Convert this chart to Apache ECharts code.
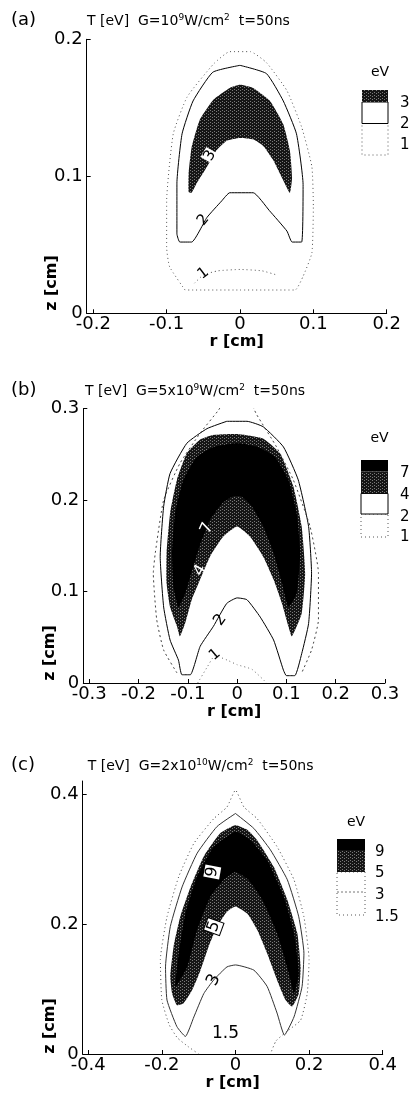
<!DOCTYPE html>
<html><head><meta charset="utf-8">
<script src="https://cdn.jsdelivr.net/npm/echarts@6/dist/echarts.min.js"></script>
<style>html,body{margin:0;padding:0;background:#fff}#c{width:411px;height:1096px}</style>
</head><body><div id="c"></div>
<script>
// ---------------- DATA (r [cm], z [cm]) ----------------
// Panel (a)  G=10^9 W/cm^2
const xTicksA = [-0.2, -0.1, 0, 0.1, 0.2];
const yTicksA = [0, 0.1, 0.2];
const levelsA = ['3', '2', '1'];
const A_fill3 = [[-0.070,0.0885],[-0.070,0.102],[-0.066,0.121],[-0.055,0.141],[-0.036,0.156],[-0.014,0.1645],[0,0.1668],[0.018,0.1645],[0.041,0.155],[0.059,0.138],[0.068,0.119],[0.071,0.099],[0.068,0.088],
  [0.059,0.097],[0.045,0.112],[0.032,0.122],[0.018,0.127],[0,0.128],[-0.018,0.126],[-0.032,0.119],[-0.045,0.107],[-0.059,0.095],[-0.066,0.088]];
const A_line2 = [[0,0.181],[-0.037,0.176],[-0.064,0.155],[-0.079,0.131],[-0.086,0.095],[-0.086,0.058],[-0.082,0.052],[-0.066,0.052],[-0.045,0.070],[-0.025,0.082],[-0.014,0.088],[0.018,0.088],[0.040,0.075],[0.064,0.060],[0.071,0.052],[0.084,0.052],[0.086,0.094],[0.077,0.131],[0.059,0.155],[0.036,0.175],[0,0.181]];
const A_line1 = [[-0.075,0.017],[-0.096,0.034],[-0.100,0.048],[-0.100,0.082],[-0.091,0.131],[-0.072,0.158],[-0.036,0.182],[-0.014,0.191],[0.014,0.191],[0.036,0.183],[0.064,0.1625],[0.084,0.136],[0.098,0.107],[0.100,0.078],[0.098,0.044],[0.086,0.027],[0.075,0.017],[0,0.017],[-0.075,0.017]];
const A_line1b = [[-0.062,0.022],[-0.050,0.028],[-0.030,0.031],[0,0.032],[0.030,0.031],[0.050,0.028]];
const A_labels = [['3',-0.041,0.115],['2',-0.050,0.068],['1',-0.050,0.029]];

// Panel (b)  G=5x10^9 W/cm^2
const xTicksB = [-0.3, -0.2, -0.1, 0, 0.1, 0.2, 0.3];
const yTicksB = [0, 0.1, 0.2, 0.3];
const levelsB = ['7', '4', '2', '1'];
const B_fill4 = [[-0.116,0.051],[-0.122,0.062],[-0.136,0.083],[-0.143,0.109],[-0.143,0.142],[-0.136,0.185],[-0.122,0.222],[-0.102,0.251],[-0.075,0.266],[-0.049,0.271],[0,0.272],[0.053,0.267],[0.087,0.251],[0.114,0.215],[0.131,0.171],[0.138,0.120],[0.131,0.076],[0.111,0.051],
  [0.104,0.062],[0.091,0.087],[0.074,0.113],[0.053,0.138],[0.026,0.160],[0,0.171],[-0.028,0.160],[-0.055,0.138],[-0.075,0.113],[-0.092,0.091],[-0.105,0.066]];
const B_fill7 = [[-0.119,0.083],[-0.129,0.105],[-0.132,0.142],[-0.126,0.185],[-0.109,0.222],[-0.082,0.247],[-0.048,0.258],[0,0.262],[0.043,0.258],[0.077,0.247],[0.104,0.222],[0.121,0.185],[0.128,0.142],[0.121,0.098],[0.104,0.083],
  [0.091,0.109],[0.074,0.142],[0.053,0.171],[0.030,0.193],[0.008,0.204],[-0.008,0.204],[-0.031,0.196],[-0.055,0.178],[-0.072,0.156],[-0.089,0.127],[-0.105,0.098]];
const B_line2 = [[-0.021,0.286],[-0.061,0.278],[-0.102,0.262],[-0.136,0.229],[-0.149,0.193],[-0.156,0.138],[-0.149,0.083],[-0.136,0.047],[-0.119,0.025],[-0.112,0.009],[-0.095,0.009],[-0.075,0.040],[-0.048,0.062],[-0.021,0.087],[0,0.093],[0.020,0.091],[0.047,0.072],[0.074,0.047],[0.094,0.014],[0.100,0.008],[0.117,0.008],[0.131,0.032],[0.145,0.065],[0.151,0.120],[0.145,0.171],[0.124,0.222],[0.094,0.258],[0.053,0.280],[0.020,0.286],[-0.021,0.286]];
const B_line1 = [[-0.122,0.011],[-0.149,0.036],[-0.163,0.069],[-0.170,0.120],[-0.166,0.142],[-0.149,0.200],[-0.116,0.240],[-0.075,0.273],[-0.038,0.298],[-0.020,0.312],[0.020,0.312],[0.040,0.293],[0.080,0.258],[0.114,0.222],[0.148,0.171],[0.165,0.120],[0.165,0.069],[0.151,0.036],[0.131,0.011]];
const B_line1b = [[-0.080,0.0],[-0.060,0.018],[-0.045,0.030],[-0.020,0.025],[0,0.020],[0.030,0.015],[0.060,0.0]];
const B_labels = [['7',-0.061,0.169],['4',-0.075,0.123],['2',-0.034,0.069],['1',-0.045,0.031]];

// Panel (c)  G=2x10^10 W/cm^2
const xTicksC = [-0.4, -0.2, 0, 0.2, 0.4];
const yTicksC = [0, 0.2, 0.4];
const levelsC = ['9', '5', '3', '1.5'];
const C_fill5 = [[-0.159,0.075],[-0.172,0.093],[-0.177,0.119],[-0.168,0.165],[-0.150,0.211],[-0.122,0.257],[-0.086,0.304],[-0.041,0.340],[0,0.352],[0.032,0.345],[0.059,0.329],[0.104,0.288],[0.141,0.237],[0.168,0.186],[0.177,0.134],[0.172,0.093],[0.154,0.073],
  [0.136,0.083],[0.113,0.114],[0.086,0.155],[0.059,0.191],[0.032,0.216],[0,0.227],[-0.023,0.219],[-0.050,0.196],[-0.073,0.165],[-0.095,0.129],[-0.118,0.098],[-0.141,0.078]];
const C_fill9 = [[-0.163,0.104],[-0.154,0.155],[-0.136,0.216],[-0.104,0.273],[-0.059,0.319],[0,0.342],[0.041,0.329],[0.086,0.298],[0.131,0.242],[0.159,0.186],[0.172,0.124],[0.159,0.093],
  [0.145,0.124],[0.113,0.186],[0.073,0.237],[0.035,0.268],[0,0.280],[-0.032,0.268],[-0.068,0.242],[-0.104,0.191],[-0.131,0.134]];
const C_line3 = [[0,0.370],[-0.050,0.350],[-0.104,0.309],[-0.145,0.257],[-0.177,0.196],[-0.190,0.134],[-0.186,0.083],[-0.159,0.042],[-0.136,0.027],[-0.113,0.057],[-0.086,0.093],[-0.059,0.114],[-0.023,0.134],[0,0.137],[0.050,0.129],[0.086,0.104],[0.113,0.063],[0.133,0.029],[0.159,0.057],[0.181,0.104],[0.186,0.155],[0.172,0.211],[0.141,0.268],[0.095,0.314],[0.050,0.347],[0,0.370]];
const C_line15 = [[-0.100,0.0],[-0.130,0.012],[-0.158,0.025],[-0.180,0.045],[-0.200,0.083],[-0.204,0.145],[-0.186,0.211],[-0.154,0.273],[-0.113,0.324],[-0.059,0.362],[-0.023,0.380],[0,0.406],[0.023,0.380],[0.059,0.362],[0.113,0.319],[0.159,0.268],[0.186,0.211],[0.200,0.145],[0.195,0.093],[0.177,0.052],[0.140,0.035],[0.110,0.020],[0.095,0.0]];
const C_labels = [['9',-0.063,0.280],['5',-0.059,0.196],['3',-0.059,0.114],['1.5',-0.027,0.032]];

// ---------------- STYLE / LAYOUT ----------------
const FONT = 'DejaVu Sans';
function makeTexture(bg, dot) {
  const c = document.createElement('canvas'); c.width = 4; c.height = 3;
  const g = c.getContext('2d'); g.fillStyle = bg; g.fillRect(0, 0, 4, 3);
  g.fillStyle = dot; g.fillRect(0, 0, 1, 1); g.fillRect(2, 2, 1, 1);
  return {image: c, repeat: 'repeat'};
}
const TEX = makeTexture('#151515', '#7a7a7a');
const BLACK = '#000';

const grids = [
  {left: 86.7, top: 39.3, width: 300, height: 274},
  {left: 83.3, top: 408.5, width: 301.7, height: 274.5},
  {left: 82.7, top: 781, width: 300, height: 273}
];
const xRanges = [[-0.209, 0.2], [-0.312, 0.3], [-0.415, 0.4]];
const yRanges = [[0, 0.2], [0, 0.3], [0, 0.42]];
const xTicks = [xTicksA, xTicksB, xTicksC];
const yTicks = [yTicksA, yTicksB, yTicksC];
const nameGaps = [20, 12, 18];

const xAxes = [], yAxes = [];
for (let i = 0; i < 3; i++) {
  xAxes.push({gridIndex: i, type: 'value', min: xRanges[i][0], max: xRanges[i][1],
    name: 'r [cm]', nameLocation: 'middle', nameGap: nameGaps[i],
    nameTextStyle: {fontFamily: FONT, fontWeight: 'bold', fontSize: 16, color: '#000', verticalAlign: 'top'},
    axisLine: {onZero: false, lineStyle: {color: '#000', width: 1}},
    axisTick: {inside: true, length: 4, customValues: xTicks[i], lineStyle: {color: '#000'}},
    axisLabel: {customValues: xTicks[i], fontFamily: FONT, fontSize: 18, color: '#000', margin: 2},
    splitLine: {show: false}});
  yAxes.push({gridIndex: i, type: 'value', min: yRanges[i][0], max: yRanges[i][1],
    axisLine: {onZero: false, lineStyle: {color: '#000', width: 1}},
    axisTick: {inside: true, length: 4, customValues: yTicks[i], lineStyle: {color: '#000'}},
    axisLabel: {customValues: yTicks[i], fontFamily: FONT, fontSize: 18, color: '#000', margin: 4},
    splitLine: {show: false}});
}

function fillSeries(idx, poly, fill) {
  return {type: 'custom', xAxisIndex: idx, yAxisIndex: idx, silent: true, clip: true,
    data: [[poly[0][0], poly[0][1]]],
    renderItem: function (params, api) {
      return {type: 'polygon', shape: {points: poly.map(p => api.coord(p)), smooth: 0.15},
        style: {fill: fill, stroke: null}};
    }};
}
function lineSeries(idx, pts, color, type, width) {
  return {type: 'line', xAxisIndex: idx, yAxisIndex: idx, data: pts, showSymbol: false, symbol: 'none',
    smooth: 0.15, silent: true, clip: true, animation: false,
    lineStyle: {color: color, width: width, type: type}};
}
function labelSeries(idx, labels, styles) {
  return {type: 'custom', xAxisIndex: idx, yAxisIndex: idx, silent: true, clip: false,
    data: labels.map(l => [l[1], l[2]]),
    renderItem: function (params, api) {
      const l = labels[params.dataIndex], s = styles[params.dataIndex];
      const p = api.coord([l[1], l[2]]);
      return {type: 'text', x: p[0], y: p[1], rotation: s.rot * Math.PI / 180, z2: 10,
        style: Object.assign({text: l[0], font: (s.size || 15) + 'px ' + FONT, fill: s.color || '#000',
          align: 'center', verticalAlign: 'middle'}, s.extra || {})};
    }};
}
const whiteBg = {backgroundColor: '#fff', padding: [0, 1]};
const boxBg = {backgroundColor: '#fff', borderColor: '#000', borderWidth: 1, padding: [0, 1]};
const labelStylesA = [{rot: 60, extra: whiteBg}, {rot: 50, extra: whiteBg}, {rot: 38, extra: whiteBg}];
const labelStylesB = [{rot: 65, color: '#fff', size: 16}, {rot: 60, color: '#fff', size: 16}, {rot: 55, extra: whiteBg, size: 16}, {rot: 40, extra: whiteBg}];
const labelStylesC = [{rot: 80, extra: boxBg, size: 16}, {rot: 70, extra: boxBg, size: 16}, {rot: 65, extra: whiteBg, size: 17}, {rot: 0, size: 17}];

const series = [
  fillSeries(0, A_fill3, TEX),
  lineSeries(0, A_line2, '#000', 'solid', 1),
  lineSeries(0, A_line1, '#555', [1, 3], 1),
  lineSeries(0, A_line1b, '#555', [1, 3], 1),
  labelSeries(0, A_labels, labelStylesA),

  fillSeries(1, B_fill4, TEX),
  fillSeries(1, B_fill7, BLACK),
  lineSeries(1, B_line2, '#000', 'solid', 1),
  lineSeries(1, B_line1, '#444', [2, 3], 1),
  lineSeries(1, B_line1b, '#666', [1, 3], 1),
  labelSeries(1, B_labels, labelStylesB),

  fillSeries(2, C_fill5, TEX),
  fillSeries(2, C_fill9, BLACK),
  lineSeries(2, C_line3, '#333', 'solid', 1),
  lineSeries(2, C_line15, '#444', [1, 3], 1),
  labelSeries(2, C_labels, labelStylesC)
];

// Titles
const titleDefs = [
  {letter: 'a', pre: '', exp: '9', y: 8, x: 82},
  {letter: 'b', pre: '5x', exp: '9', y: 378, x: 80},
  {letter: 'c', pre: '2x', exp: '10', y: 753, x: 82.7}
];
const titles = [];
titleDefs.forEach(d => {
  titles.push({text: '(' + d.letter + ')', left: 6, top: d.y - 2,
    textStyle: {fontFamily: FONT, fontSize: 18, fontWeight: 'normal', color: '#000'}});
  titles.push({text: '{n|T [eV]  G=' + d.pre + '10}{s|' + d.exp + '}{n|W/cm}{s|2}{n|  t=50ns}', left: d.x, top: d.y,
    textStyle: {fontWeight: 'normal', rich: {
      n: {fontFamily: FONT, fontSize: 14, fontWeight: 'normal', color: '#000', lineHeight: 16},
      s: {fontFamily: FONT, fontSize: 9, fontWeight: 'normal', color: '#000', lineHeight: 16, verticalAlign: 'top', padding: [0, 0, 7, 0]}}}});
});

// Legends (graphic)
function legendGroup(x0, x1, eVy, segs, lines, labels, labx) {
  const ch = [];
  ch.push({type: 'text', x: (x0 + x1) / 2 + 5, y: eVy, style: {text: 'eV', font: '14px ' + FONT, fill: '#000', align: 'center', verticalAlign: 'middle'}});
  segs.forEach(s => {
    ch.push({type: 'rect', shape: {x: x0, y: s.y0, width: x1 - x0, height: s.y1 - s.y0},
      style: {fill: s.fill, stroke: s.stroke || null, lineWidth: 1, lineDash: s.dash || null}});
  });
  lines.forEach(l => {
    ch.push({type: 'line', shape: {x1: x0, y1: l.y, x2: x1, y2: l.y},
      style: {stroke: l.stroke, lineWidth: 1, lineDash: l.dash || null}});
  });
  labels.forEach(l => {
    ch.push({type: 'text', x: labx, y: l.y, style: {text: l.t, font: '15px ' + FONT, fill: '#000', align: 'left', verticalAlign: 'middle'}});
  });
  return {type: 'group', children: ch};
}
const graphics = [
  legendGroup(362, 388, 72, [
    {y0: 123.5, y1: 155, fill: '#fff', stroke: '#555', dash: [1, 3]},
    {y0: 102, y1: 123.5, fill: '#fff', stroke: '#000'},
    {y0: 90, y1: 102, fill: TEX}
  ], [], [{t: levelsA[0], y: 103}, {t: levelsA[1], y: 124}, {t: levelsA[2], y: 145.5}], 400),
  legendGroup(361, 388, 438, [
    {y0: 514, y1: 537, fill: '#fff', stroke: '#555', dash: [1, 3]},
    {y0: 493.5, y1: 514, fill: '#fff', stroke: '#000'},
    {y0: 471.5, y1: 493.5, fill: TEX},
    {y0: 460, y1: 471.5, fill: BLACK}
  ], [], [{t: levelsB[0], y: 473.3}, {t: levelsB[1], y: 495}, {t: levelsB[2], y: 516.7}, {t: levelsB[3], y: 537.3}], 400),
  legendGroup(337, 365, 822, [
    {y0: 872, y1: 915, fill: '#fff', stroke: '#555', dash: [1, 3]},
    {y0: 850, y1: 872, fill: TEX},
    {y0: 839, y1: 850, fill: BLACK}
  ], [{y: 892, stroke: '#777', dash: [2, 2]}],
  [{t: levelsC[0], y: 851.7}, {t: levelsC[1], y: 873.3}, {t: levelsC[2], y: 895}, {t: levelsC[3], y: 916.7}], 375),
  {type: 'text', x: 52, y: 283, rotation: Math.PI / 2, style: {text: 'z [cm]', font: 'bold 16px ' + FONT, fill: '#000', align: 'center', verticalAlign: 'middle'}},
  {type: 'text', x: 50, y: 653, rotation: Math.PI / 2, style: {text: 'z [cm]', font: 'bold 16px ' + FONT, fill: '#000', align: 'center', verticalAlign: 'middle'}},
  {type: 'text', x: 50, y: 1026, rotation: Math.PI / 2, style: {text: 'z [cm]', font: 'bold 16px ' + FONT, fill: '#000', align: 'center', verticalAlign: 'middle'}}
];

const chart = echarts.init(document.getElementById('c'), null, {renderer: 'canvas'});
chart.setOption({
  animation: false,
  backgroundColor: '#fff',
  title: titles,
  grid: grids,
  xAxis: xAxes,
  yAxis: yAxes,
  series: series,
  graphic: graphics
});
</script>
</body></html>
